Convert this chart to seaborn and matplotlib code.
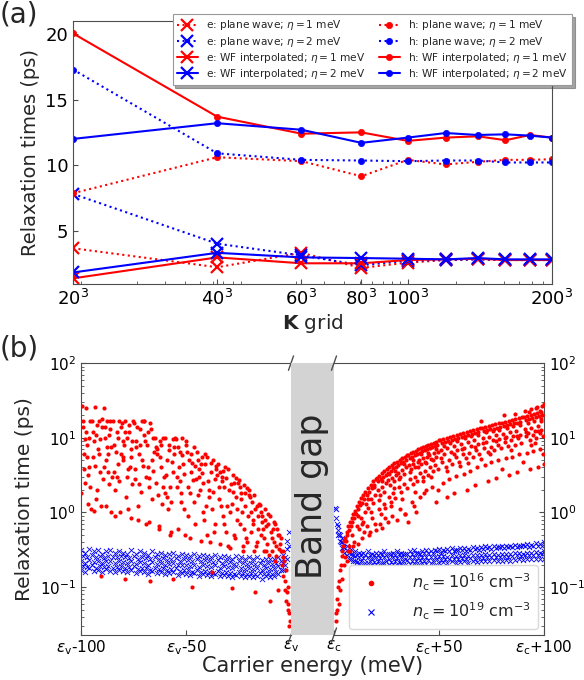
import numpy as np
import pandas as pd
import matplotlib
matplotlib.use('Agg')
import matplotlib.pyplot as plt
import seaborn as sns

sns.set_style('ticks')
plt.rcParams.update({
    'font.family': ['DejaVu Sans'],
    'mathtext.fontset': 'dejavusans',
    'xtick.direction': 'in', 'ytick.direction': 'in',
    'axes.edgecolor': '0.3', 'xtick.color': '0.3', 'ytick.color': '0.3',
    'xtick.labelcolor': 'black', 'ytick.labelcolor': 'black',
})

# ---------------- panel (a) data ----------------
K = [20, 40, 60, 80, 100, 120, 140, 160, 180, 200]
k_ticks = [20, 40, 60, 80, 100, 200]
k_labels = [r'$20^3$', r'$40^3$', r'$60^3$', r'$80^3$', r'$100^3$', r'$200^3$']

e_pw_1 = [3.65, 2.2, 3.3, 2.15, 2.55, 2.75, 2.8, 2.75, 2.75, 2.75]
e_pw_2 = [7.8, 4.0, 3.1, 2.35, 2.7, 2.75, 2.8, 2.75, 2.75, 2.75]
e_wf_1 = [1.35, 2.95, 2.5, 2.5, 2.75, 2.8, 2.85, 2.75, 2.75, 2.75]
e_wf_2 = [1.8, 3.3, 2.95, 2.9, 2.85, 2.8, 2.9, 2.8, 2.8, 2.8]
h_pw_1 = [7.85, 10.6, 10.3, 9.15, 10.4, 10.05, 10.25, 10.4, 10.4, 10.45]
h_pw_2 = [17.3, 10.9, 10.4, 10.35, 10.3, 10.35, 10.35, 10.2, 10.2, 10.2]
h_wf_1 = [20.06, 13.7, 12.4, 12.5, 11.85, 12.1, 12.2, 11.9, 12.3, 12.1]
h_wf_2 = [12.0, 13.2, 12.7, 11.7, 12.1, 12.45, 12.3, 12.35, 12.25, 12.1]

series_a = [
    (e_pw_1, 'red', ':', 'x', r'e: plane wave; $\eta=1$ meV'),
    (e_pw_2, 'blue', ':', 'x', r'e: plane wave; $\eta=2$ meV'),
    (e_wf_1, 'red', '-', 'x', r'e: WF interpolated; $\eta=1$ meV'),
    (e_wf_2, 'blue', '-', 'x', r'e: WF interpolated; $\eta=2$ meV'),
    (h_pw_1, 'red', ':', 'o', r'h: plane wave; $\eta=1$ meV'),
    (h_pw_2, 'blue', ':', 'o', r'h: plane wave; $\eta=2$ meV'),
    (h_wf_1, 'red', '-', 'o', r'h: WF interpolated; $\eta=1$ meV'),
    (h_wf_2, 'blue', '-', 'o', r'h: WF interpolated; $\eta=2$ meV'),
]

# ---------------- panel (b) data ----------------
# holes (valence side), n_c = 1e16 (red)
red_l_E = [
    -99.5, -99, -98.5, -98, -97.5, -97, -96.5, -96, -95.5, -99.8, -98.2, -96.8, -97.8, -95.2,
    -94.8, -94.2, -93.5, -93, -92.6, -92, -91.5, -91, -90.5, -94, -92.8, -90.2, -93.8,
    -89.8, -89.2, -88.5, -88, -87.4, -87, -86.5, -86, -85.5, -89, -87.8, -85.2, -90.6,
    -84.8, -84.2, -83.6, -83, -82.5, -82, -81.4, -81, -80.5, -84, -82.8, -80.2,
    -79.8, -79.2, -78.6, -78, -77.5, -77, -76.4, -76, -75.5, -79, -77.8, -75.2, -76.8, -78.9,
    -74.8, -74.2, -73.6, -73, -72.5, -72, -71.4, -71, -70.5, -74, -72.8, -70.2,
    -69.8, -69.2, -68.6, -68, -67.5, -67, -66.4, -66, -65.5, -69, -67.8, -65.2, -67.2,
    -64.8, -64.2, -63.6, -63, -62.5, -62, -61.4, -61, -60.5, -64, -62.8, -60.2,
    -59.8, -59.2, -58.6, -58, -57.5, -57, -56.4, -56, -55.5, -59, -57.8, -55.2, -56.2,
    -54.8, -54.2, -53.6, -53, -52.5, -52, -51.4, -51, -50.5, -54, -52.8, -50.2,
    -49.8, -49.2, -48.6, -48, -47.5, -47, -46.4, -46, -45.5, -49, -47.8, -45.2,
    -44.8, -44.2, -43.6, -43, -42.5, -42, -41.4, -41, -40.5, -44, -42.8, -40.2,
    -39.8, -39.2, -38.6, -38, -37.5, -37, -36.4, -36, -35.5, -39, -37.8, -35.2,
    -34.8, -34.2, -33.6, -33, -32.5, -32, -31.4, -31, -30.5, -34, -32.8, -30.2,
    -29.8, -29.2, -28.6, -28, -27.5, -27, -26.4, -26, -25.5, -29, -27.8, -25.2,
    -24.8, -24.2, -23.6, -23, -22.5, -22, -21.4, -21, -20.5, -24, -22.8, -20.2,
    -19.8, -19.2, -18.6, -18, -17.5, -17, -16.4, -16, -15.5, -19, -17.8, -15.2,
    -14.8, -14.2, -13.6, -13, -12.5, -12, -11.4, -11, -10.5, -14, -12.8, -10.2,
    -9.8, -9.2, -8.6, -8, -7.5, -7, -6.4, -6, -5.5, -9, -7.8, -5.2,
    -4.8, -4.4, -4, -3.6, -3.2, -2.8, -2.4, -2, -1.6, -1.2, -0.9, -0.6, -3.9, -2.9, -2.2, -1.4, -0.8,
]
red_l_t = [
    27, 17, 6, 2.5, 12, 8, 1.3, 4, 17, 1.8, 9.5, 3.2, 25, 1.1,
    17, 5.5, 26, 11, 2, 7, 17, 3.5, 1.2, 9, 1.5, 14, 1.05,
    18, 4, 10, 1.2, 17, 6, 2.4, 13, 1.0, 25, 7.5, 3, 0.14,
    17, 8, 2, 12, 4.5, 17, 1.0, 6, 16, 0.9, 3, 9,
    5, 17, 1.6, 10, 3.8, 15, 0.85, 7, 2.4, 12, 1.1, 17, 4, 0.13,
    16, 2.8, 9, 0.8, 6, 13, 1.9, 17, 4.2, 7.5, 1.2, 11,
    17, 3, 8, 12, 0.75, 16, 5, 1.5, 10, 0.7, 2.2, 6.5, 0.12,
    10, 2.5, 6, 0.65, 9, 4, 1.3, 10, 3, 7, 0.6, 1.8,
    10, 5, 1.1, 8, 2.2, 0.55, 9.5, 3.5, 6, 1.6, 0.5, 10, 0.13,
    9.5, 3, 0.6, 6.5, 1.8, 10, 4.5, 1.1, 0.5, 7.5, 2.6, 9,
    8, 2.2, 5, 0.45, 3.5, 0.1, 7.5, 1.4, 4.2, 0.9, 6, 2.8,
    6.5, 1.7, 3.8, 0.42, 5.5, 2.5, 0.8, 6, 1.2, 3, 4.5, 0.5,
    5.5, 2, 0.4, 3.5, 1.1, 5, 0.7, 2.8, 4.2, 1.6, 0.16, 3.2,
    4.5, 1.5, 0.38, 3, 0.9, 2.2, 4, 0.55, 1.2, 3.5, 2.6, 0.35,
    3.8, 1, 2.4, 0.098, 3.2, 0.5, 1.6, 2.9, 0.8, 0.33, 1.9, 2.5,
    2.7, 0.7, 1.8, 0.36, 2.3, 1.2, 0.45, 2.1, 0.9, 1.5, 0.3, 1.7,
    2, 0.55, 1.4, 0.8, 1.7, 0.085, 0.4, 1.2, 0.6, 1, 0.3, 1.3,
    1.25, 0.5, 0.9, 0.3, 1.1, 0.65, 0.38, 0.95, 0.27, 0.75, 0.45, 0.065,
    0.9, 0.3, 0.6, 0.4, 0.7, 0.26, 0.5, 0.09, 0.32, 0.45, 0.22, 0.38,
    0.45, 0.2, 0.3, 0.14, 0.22, 0.12, 0.17, 0.085, 0.1, 0.06, 0.045, 0.035, 0.25, 0.09, 0.065, 0.05, 0.03,
]
red_l_E2 = [
    -99.2, -98.8, -97.2, -96.2, -95.8, -94.5, -93.2, -92.2, -91.2, -90.8, -89.5, -88.8, -88.2, -87.2,
    -86.8, -86.2, -85.8, -84.5, -83.2, -82.2, -81.8, -80.8, -80, -79.5, -78.2, -77.2, -76.2, -75.8,
    -74.5, -73.2, -72.2, -71.8, -70.8, -70, -69.5, -68.2, -67.4, -66.8, -65.8, -64.5, -63.2, -62.2,
    -61.8, -60.8, -59.5, -58.2, -57.2, -56.8, -55.8, -54.5, -53.2, -52.2, -51.8, -50.8, -49.5, -48.2,
    -47.2, -46.8, -45.8, -44.5, -43.2, -42.2, -41.8, -40.8, -39.5, -38.2, -37.2, -36.8, -35.8, -34.5,
    -33.2, -32.2, -31.8, -30.8, -29.5, -28.2, -27.2, -26.8, -25.8, -24.5, -23.2, -22.2, -21.8, -20.8,
    -19.5, -18.2, -17.2, -16.8, -15.8, -14.5, -13.2, -12.2, -11.8, -10.8, -9.5, -8.2, -7.2, -6.8,
    -5.8, -5,
]
red_l_t2 = [
    14, 3.8, 5.5, 10, 2.2, 12, 4.2, 15, 6, 9.5, 2.8, 14, 5, 3.5,
    11, 17, 7.5, 3.5, 6.5, 10, 2.6, 14, 5.5, 8, 3, 12, 5.5, 9,
    3.8, 14, 2.4, 8, 5, 17, 9, 4, 2.9, 13, 3.6, 7.5, 1.7, 5.5,
    8, 2.2, 3.2, 6.8, 1.4, 4.8, 7.5, 2.2, 4, 1.4, 5.8, 3.3, 6.5, 1.8,
    4.6, 2.7, 0.7, 5, 2, 3.4, 1, 4.5, 2.6, 4.6, 1.9, 0.55, 3.8, 2.2,
    1.2, 3.6, 0.7, 2.9, 2, 1.3, 2.5, 0.45, 1.1, 2.2, 1, 0.6, 1.8, 0.4,
    1.6, 0.7, 1.1, 0.35, 0.9, 1, 0.6, 0.8, 0.3, 0.7, 0.55, 0.75, 0.35, 0.6,
    0.5, 0.3,
]

# holes, n_c = 1e19 (blue): two energy rows with several tau layers
blue_l_E_a = [-100, -98, -96, -94, -92, -90, -88, -86, -84, -82, -80, -78, -76, -74, -72,
              -70, -68, -66, -64, -62, -60, -58, -56, -54, -52, -50, -48, -46, -44, -42,
              -40, -38, -36, -34, -32, -30, -28, -26, -24, -22, -20, -18, -16, -14, -12,
              -10, -8, -6, -4, -2]
blue_l_E_b = [-99, -97, -95, -93, -91, -89, -87, -85, -83, -81, -79, -77, -75, -73, -71,
              -69, -67, -65, -63, -61, -59, -57, -55, -53, -51, -49, -47, -45, -43, -41,
              -39, -37, -35, -33, -31, -29, -27, -25, -23, -21, -19, -17, -15, -13, -11,
              -9, -7, -5, -3, -1]
blue_l_low = [0.17, 0.16, 0.18, 0.165, 0.17, 0.16, 0.175, 0.165, 0.16, 0.17,
              0.165, 0.16, 0.17, 0.155, 0.165, 0.16, 0.15, 0.165, 0.155, 0.16,
              0.15, 0.155, 0.16, 0.145, 0.155, 0.15, 0.145, 0.155, 0.14, 0.15,
              0.145, 0.14, 0.15, 0.14, 0.145, 0.14, 0.135, 0.145, 0.14, 0.135,
              0.14, 0.135, 0.14, 0.13, 0.14, 0.135, 0.14, 0.15, 0.17, 0.24]
blue_l_mid = [0.22, 0.21, 0.23, 0.215, 0.22, 0.21, 0.225, 0.22, 0.21, 0.22,
              0.215, 0.21, 0.22, 0.205, 0.215, 0.21, 0.2, 0.215, 0.205, 0.21,
              0.2, 0.205, 0.21, 0.195, 0.2, 0.2, 0.19, 0.2, 0.185, 0.195,
              0.19, 0.185, 0.195, 0.18, 0.19, 0.185, 0.18, 0.19, 0.18, 0.175,
              0.18, 0.175, 0.18, 0.17, 0.18, 0.175, 0.18, 0.19, 0.21, 0.32]
blue_l_high = [0.31, 0.29, 0.32, 0.3, 0.31, 0.28, 0.3, 0.31, 0.29, 0.3,
               0.29, 0.28, 0.31, 0.28, 0.3, 0.29, 0.27, 0.3, 0.28, 0.29,
               0.27, 0.28, 0.29, 0.26, 0.28, 0.27, 0.26, 0.28, 0.26, 0.27,
               0.26, 0.25, 0.27, 0.25, 0.26, 0.25, 0.24, 0.26, 0.25, 0.24,
               0.25, 0.24, 0.25, 0.23, 0.24, 0.24, 0.24, 0.25, 0.27, 0.42]
blue_l_lm = [0.19, 0.185, 0.195, 0.18, 0.19, 0.185, 0.19, 0.18, 0.185, 0.19,
             0.18, 0.185, 0.19, 0.175, 0.18, 0.18, 0.17, 0.18, 0.175, 0.18,
             0.17, 0.175, 0.18, 0.165, 0.17, 0.17, 0.16, 0.17, 0.16, 0.165,
             0.16, 0.155, 0.165, 0.155, 0.16, 0.155, 0.15, 0.16, 0.155, 0.15,
             0.155, 0.15, 0.155, 0.15, 0.155, 0.15, 0.16, 0.17, 0.2, 0.36]
blue_l_mh = [0.26, 0.25, 0.27, 0.25, 0.26, 0.245, 0.26, 0.25, 0.255, 0.26,
             0.25, 0.245, 0.26, 0.24, 0.25, 0.245, 0.235, 0.25, 0.24, 0.245,
             0.23, 0.24, 0.245, 0.225, 0.235, 0.23, 0.22, 0.235, 0.22, 0.23,
             0.22, 0.215, 0.23, 0.21, 0.22, 0.215, 0.205, 0.22, 0.21, 0.205,
             0.21, 0.205, 0.21, 0.2, 0.21, 0.205, 0.21, 0.22, 0.25, 0.55]

# electrons (conduction side), n_c = 1e16 (red)
red_r_E = [
    0.8, 1.2, 1.6, 2, 2.4, 2.8, 3.2, 3.6, 4, 4.4, 4.8, 1.0, 2.2, 3.0, 3.8, 4.6,
    5.2, 5.6, 6, 6.4, 6.8, 7.2, 7.6, 8, 8.4, 8.8, 9.2, 9.6, 5.4, 6.2, 7, 7.8, 8.6, 9.4,
    10, 10.5, 11, 11.5, 12, 12.5, 13, 13.5, 14, 14.5, 10.8, 11.8, 12.8, 13.8, 14.8, 11.2, 13.2, 14.2,
    15, 15.6, 16.2, 16.8, 17.4, 18, 18.6, 19.2, 19.8, 15.4, 16.4, 17.4, 18.4, 19.4, 15.8, 17, 18.2, 19.6, 16.6,
    20.4, 21, 21.6, 22.2, 22.8, 23.4, 24, 24.6, 20.8, 21.8, 22.8, 23.8, 24.8, 21.2, 22.4, 23.6, 24.4, 20.2, 22, 23,
    25.2, 25.8, 26.4, 27, 27.6, 28.2, 28.8, 29.4, 25.5, 26.5, 27.5, 28.5, 29.5, 26, 27, 28, 29, 25.8, 27.8, 29.8,
    30, 30.6, 31.2, 31.8, 32.4, 33, 33.6, 34.2, 34.8, 30.4, 31.4, 32.4, 33.4, 34.4, 30.8, 32, 33.2, 34.6, 31.6, 33.8,
    35.4, 36, 36.6, 37.2, 37.8, 38.4, 39, 39.6, 35.8, 36.8, 37.8, 38.8, 39.8, 36.2, 37.4, 38.6, 39.4, 35.2, 37, 38.2, 39.2,
    40.2, 40.8, 41.4, 42, 42.6, 43.2, 43.8, 44.4, 40.5, 41.5, 42.5, 43.5, 44.5, 41, 42.2, 43.4, 44.6, 40.8, 42.8, 44,
    45, 45.6, 46.2, 46.8, 47.4, 48, 48.6, 49.2, 49.8, 45.4, 46.4, 47.4, 48.4, 49.4, 45.8, 47, 48.2, 49.6, 46.6, 48.8,
    50.4, 51.2, 52, 52.8, 53.6, 54.4, 55.2, 56, 56.8, 57.6, 58.4, 59.2, 50.8, 52.4, 54, 55.6, 57.2, 58.8,
    51.6, 53.2, 54.8, 56.4, 58, 59.6, 52, 55, 58, 53.6, 57,
    60, 60.8, 61.6, 62.4, 63.2, 64, 64.8, 65.6, 66.4, 67.2, 68, 68.8, 69.6, 60.4, 62, 63.6, 65.2, 66.8, 68.4,
    61.2, 62.8, 64.4, 66, 67.6, 69.2, 62, 65, 68, 63.5, 67,
    70.4, 71.2, 72, 72.8, 73.6, 74.4, 75.2, 76, 76.8, 77.6, 78.4, 79.2, 70.8, 72.4, 74, 75.6, 77.2, 78.8,
    71.6, 73.2, 74.8, 76.4, 78, 79.6, 72, 75, 78, 73.5, 77, 70.2,
    80, 80.8, 81.6, 82.4, 83.2, 84, 84.8, 85.6, 86.4, 87.2, 88, 88.8, 89.6, 80.4, 82, 83.6, 85.2, 86.8, 88.4,
    81.2, 82.8, 84.4, 86, 87.6, 89.2, 82, 85, 88, 83.5, 87, 81, 86,
    90.4, 91.2, 92, 92.8, 93.6, 94.4, 95.2, 96, 96.8, 97.6, 98.4, 99.2, 90.8, 92.4, 94, 95.6, 97.2, 98.8,
    91.6, 93.2, 94.8, 96.4, 98, 99.6, 92, 95, 98, 93.5, 97, 99.8, 91, 94, 96.5, 99, 95.5, 98.6,
]
red_r_t = [
    0.035, 0.05, 0.07, 0.1, 0.12, 0.17, 0.2, 0.26, 0.3, 0.35, 0.42, 0.045, 0.06, 0.09, 0.13, 0.2,
    0.45, 0.42, 0.55, 0.5, 0.65, 0.58, 0.75, 0.66, 0.85, 0.75, 0.95, 0.85, 0.25, 0.22, 0.36, 0.3, 0.5, 0.4,
    1.05, 0.95, 1.2, 1.1, 1.4, 1.25, 1.55, 1.35, 1.7, 1.5, 0.65, 0.6, 0.85, 0.75, 1.0, 0.38, 0.45, 0.55,
    1.9, 1.7, 2.1, 1.9, 2.3, 2.1, 2.6, 2.3, 2.8, 1.3, 1.15, 1.5, 1.35, 1.7, 0.65, 0.55, 0.85, 0.7, 0.5,
    2.9, 2.6, 3.1, 2.8, 3.4, 3.0, 3.6, 3.2, 2.0, 1.7, 2.2, 1.9, 2.5, 1.1, 0.95, 1.3, 1.15, 0.58, 0.7, 0.62,
    3.8, 3.4, 4.0, 3.6, 4.3, 3.9, 4.6, 4.1, 2.7, 2.3, 2.9, 2.6, 3.2, 1.6, 1.4, 1.8, 1.55, 0.75, 0.9, 0.8,
    4.8, 4.3, 5.0, 4.6, 5.3, 4.8, 5.6, 5.0, 5.8, 3.4, 3.0, 3.7, 3.3, 4.0, 2.2, 1.9, 2.4, 2.1, 1.1, 0.95,
    5.9, 5.3, 6.2, 5.6, 6.4, 5.8, 6.7, 6.0, 4.3, 3.8, 4.5, 4.0, 4.8, 2.8, 2.4, 3.0, 2.6, 0.75, 1.4, 1.2, 1.0,
    7.0, 6.3, 7.2, 6.6, 7.5, 6.8, 7.8, 7.0, 5.1, 4.5, 5.3, 4.8, 5.6, 3.4, 3.0, 3.6, 3.2, 1.6, 1.8, 2.0,
    8.0, 7.2, 8.3, 7.5, 8.6, 7.8, 8.9, 8.0, 9.2, 5.9, 5.2, 6.2, 5.5, 6.5, 4.0, 3.6, 4.3, 3.8, 2.2, 1.4,
    9.3, 8.4, 9.6, 8.7, 10, 9.0, 10.3, 9.3, 10.7, 9.6, 11, 9.9, 6.8, 6.0, 7.2, 6.4, 7.7, 6.8,
    4.7, 4.1, 5.0, 4.4, 5.5, 4.8, 2.5, 2.8, 3.1, 1.6, 1.8,
    11.4, 10.3, 11.7, 10.6, 12, 10.9, 12.4, 11.2, 12.7, 11.5, 13, 11.8, 13.4, 8.3, 7.4, 8.7, 7.8, 9.2, 8.2,
    6.0, 5.3, 6.3, 5.6, 6.8, 6.0, 3.3, 3.6, 4.0, 2.0, 2.3,
    13.6, 12.2, 14, 12.6, 14.4, 13, 14.8, 13.3, 15.2, 13.7, 15.6, 14, 9.9, 8.8, 10.3, 9.2, 10.8, 9.6,
    7.3, 6.5, 7.6, 6.8, 8.1, 7.2, 4.3, 4.7, 5.0, 2.6, 2.9, 17,
    16, 14.4, 16.4, 14.8, 16.9, 15.2, 17.3, 15.6, 17.8, 16, 18.2, 16.4, 18.7, 11.4, 10.2, 11.9, 10.6, 12.5, 11,
    8.7, 7.7, 9.2, 8.1, 9.8, 8.6, 5.3, 5.6, 6.0, 3.2, 3.5, 20, 21,
    19, 17.2, 19.6, 17.8, 20.3, 18.4, 21, 19, 21.7, 19.6, 22.4, 20.2, 13.1, 11.7, 13.7, 12.2, 14.3, 12.8,
    10.5, 9.3, 11, 9.8, 11.7, 10.4, 6.3, 6.7, 7.1, 3.8, 4.1, 4.5, 23, 24, 26, 27, 8.5, 17,
]
red_r_E2 = [
    6.5, 9, 11.5, 13.5, 16, 17.8, 19, 21.5, 23, 24.2, 26, 27.2, 28.6, 29.2, 31, 32.6, 33.5, 34,
    36.4, 37.6, 38.8, 40, 41.2, 42.4, 43.6, 44.8, 46, 47.2, 48.4, 49.6, 51, 52.6, 54, 55.4, 57,
    58.6, 59.8, 61, 62.6, 64, 65.4, 67, 68.6, 69.8, 71, 72.6, 74.2, 75.6, 77, 78.6, 79.8, 81.4,
    82.6, 84.2, 85.4, 87, 88.6, 89.8, 91.4, 92.6, 94, 95.4, 97, 98.6, 99.6, 96, 98, 93, 100, 99,
]
red_r_t2 = [
    0.3, 0.35, 0.9, 0.7, 1.5, 1.0, 2.2, 1.45, 2.6, 0.85, 3.3, 1.2, 2.1, 3.6, 2.8, 1.5, 4.4, 0.95,
    3.5, 5.0, 1.9, 4.0, 6.0, 2.6, 4.6, 6.2, 3.0, 5.0, 7.0, 2.0, 5.4, 7.8, 3.6, 8.6, 6.0,
    9.0, 4.2, 7.0, 9.8, 4.6, 10.6, 7.6, 11, 5.2, 8.4, 11.8, 6.0, 12.4, 9.0, 12.8, 3.8, 10,
    13.5, 6.8, 14.2, 10.6, 15, 4.8, 12, 16, 8, 16.8, 12.5, 18, 6, 25, 23, 22, 28, 20,
]

# electrons, n_c = 1e19 (blue)
blue_r_E_a = [2, 4, 6, 8, 10, 12, 14, 16, 18, 20, 22, 24, 26, 28, 30, 32, 34, 36, 38, 40,
              42, 44, 46, 48, 50, 52, 54, 56, 58, 60, 62, 64, 66, 68, 70, 72, 74, 76, 78, 80,
              82, 84, 86, 88, 90, 92, 94, 96, 98, 100]
blue_r_E_b = [1, 3, 5, 7, 9, 11, 13, 15, 17, 19, 21, 23, 25, 27, 29, 31, 33, 35, 37, 39,
              41, 43, 45, 47, 49, 51, 53, 55, 57, 59, 61, 63, 65, 67, 69, 71, 73, 75, 77, 79,
              81, 83, 85, 87, 89, 91, 93, 95, 97, 99]
blue_r_low = [0.5, 0.33, 0.27, 0.24, 0.22, 0.21, 0.2, 0.21, 0.2, 0.205,
              0.2, 0.21, 0.2, 0.205, 0.2, 0.21, 0.2, 0.205, 0.21, 0.2,
              0.21, 0.205, 0.21, 0.2, 0.21, 0.215, 0.21, 0.22, 0.21, 0.215,
              0.22, 0.21, 0.22, 0.215, 0.22, 0.225, 0.22, 0.23, 0.22, 0.225,
              0.23, 0.225, 0.23, 0.235, 0.23, 0.24, 0.235, 0.24, 0.235, 0.24]
blue_r_mid = [0.58, 0.4, 0.31, 0.28, 0.26, 0.25, 0.245, 0.25, 0.24, 0.25,
              0.245, 0.25, 0.24, 0.25, 0.245, 0.25, 0.24, 0.25, 0.255, 0.245,
              0.255, 0.25, 0.255, 0.25, 0.26, 0.26, 0.255, 0.265, 0.26, 0.265,
              0.27, 0.26, 0.27, 0.265, 0.27, 0.275, 0.27, 0.28, 0.27, 0.275,
              0.28, 0.275, 0.285, 0.29, 0.28, 0.29, 0.285, 0.295, 0.29, 0.3]
blue_r_high = [0.66, 0.46, 0.36, 0.32, 0.3, 0.29, 0.29, 0.3, 0.28, 0.29,
               0.285, 0.3, 0.28, 0.29, 0.3, 0.29, 0.28, 0.3, 0.31, 0.29,
               0.3, 0.31, 0.3, 0.31, 0.32, 0.31, 0.32, 0.33, 0.31, 0.33,
               0.33, 0.32, 0.34, 0.33, 0.34, 0.35, 0.34, 0.35, 0.34, 0.36,
               0.36, 0.35, 0.37, 0.36, 0.37, 0.38, 0.37, 0.39, 0.38, 0.4]
blue_r_lm = [0.85, 0.42, 0.29, 0.24, 0.225, 0.215, 0.22, 0.21, 0.22, 0.215,
             0.22, 0.21, 0.22, 0.215, 0.225, 0.215, 0.22, 0.23, 0.22, 0.225,
             0.23, 0.225, 0.23, 0.225, 0.235, 0.23, 0.24, 0.235, 0.24, 0.235,
             0.245, 0.24, 0.245, 0.24, 0.25, 0.245, 0.25, 0.255, 0.25, 0.255,
             0.26, 0.255, 0.26, 0.265, 0.26, 0.27, 0.265, 0.27, 0.27, 0.275]
blue_r_mh = [1.1, 0.5, 0.34, 0.29, 0.27, 0.27, 0.275, 0.265, 0.27, 0.27,
             0.265, 0.275, 0.27, 0.28, 0.27, 0.275, 0.28, 0.275, 0.28, 0.285,
             0.28, 0.29, 0.285, 0.29, 0.3, 0.29, 0.3, 0.305, 0.3, 0.31,
             0.31, 0.305, 0.315, 0.32, 0.31, 0.32, 0.33, 0.32, 0.33, 0.34,
             0.33, 0.34, 0.345, 0.34, 0.35, 0.35, 0.345, 0.36, 0.35, 0.36]
blue_r_edge_E = [0.5, 1.5, 2.5, 3.5, 4.5]
blue_r_edge_t = [1.15, 0.7, 0.52, 0.4, 0.34]

left_ticks = [-100, -50, 0]
left_labels = [r'$\varepsilon_\mathrm{v}$-100', r'$\varepsilon_\mathrm{v}$-50', r'$\varepsilon_\mathrm{v}$']
right_ticks = [0, 50, 100]
right_labels = [r'$\varepsilon_\mathrm{c}$', r'$\varepsilon_\mathrm{c}$+50', r'$\varepsilon_\mathrm{c}$+100']

# ---------------- figure ----------------
fig = plt.figure(figsize=(5.84, 6.8), dpi=100)

# panel (a)
ax = fig.add_axes([0.125, 0.582, 0.820, 0.387])
K3 = [k ** 3 for k in K]
for vals, col, ls, mk, lab in series_a:
    if mk == 'x':
        sns.lineplot(x=K3, y=vals, ax=ax, color=col, linestyle=ls, linewidth=1.5,
                     marker='x', markersize=9, markeredgewidth=1.6, markeredgecolor=col,
                     label=lab, sort=False)
    else:
        sns.lineplot(x=K3, y=vals, ax=ax, color=col, linestyle=ls, linewidth=1.5,
                     marker='o', markersize=4.5, markeredgewidth=0.5, markeredgecolor=col,
                     markerfacecolor=col, label=lab, sort=False)
ax.set_xscale('log')
ax.set_xlim(20 ** 3, 200 ** 3)
ax.set_ylim(0.9, 21)
ax.set_xticks([k ** 3 for k in k_ticks])
ax.set_xticklabels(k_labels, fontsize=13)
ax.set_yticks([5, 10, 15, 20])
ax.tick_params(axis='y', labelsize=13)
ax.set_xlabel(r'$\mathbf{K}$ grid', fontsize=14.5, labelpad=2)
ax.set_ylabel('Relaxation times (ps)', fontsize=14)
leg = ax.legend(ncol=2, fontsize=7.6, loc='upper right', bbox_to_anchor=(1.042, 1.027),
                borderaxespad=0, shadow=True, fancybox=False, framealpha=1,
                edgecolor='0.6', columnspacing=1.2, handlelength=2.0, labelspacing=0.22)
leg.get_frame().set_linewidth(0.8)

# panel (b)
axL = fig.add_axes([0.1387, 0.066, 0.3596, 0.400])
axM = fig.add_axes([0.4983, 0.066, 0.0736, 0.400])
axR = fig.add_axes([0.5719, 0.066, 0.3596, 0.400])

for a, E_a, E_b, lo, mi, hi, lm, mh in [
        (axL, blue_l_E_a, blue_l_E_b, blue_l_low, blue_l_mid, blue_l_high, blue_l_lm, blue_l_mh),
        (axR, blue_r_E_a, blue_r_E_b, blue_r_low, blue_r_mid, blue_r_high, blue_r_lm, blue_r_mh)]:
    bx = list(E_a) * 3 + list(E_b) * 2
    by = list(lo) + list(mi) + list(hi) + list(lm) + list(mh)
    sns.scatterplot(x=bx, y=by, ax=a, color='blue', marker='x', s=14, linewidth=0.6, zorder=2)

sns.scatterplot(x=blue_r_edge_E, y=blue_r_edge_t, ax=axR, color='blue', marker='x', s=14,
                linewidth=0.6, zorder=2)
sns.scatterplot(x=red_l_E + red_l_E2, y=red_l_t + red_l_t2, ax=axL, color='red', marker='o',
                s=9, linewidth=0, zorder=3)
sns.scatterplot(x=red_r_E + red_r_E2, y=red_r_t + red_r_t2, ax=axR, color='red', marker='o',
                s=9, linewidth=0, zorder=3)

for a in (axL, axR):
    a.set_yscale('log')
    a.set_ylim(0.0227, 100)
axL.set_xlim(-100, 0)
axR.set_xlim(0, 100)
axL.set_xticks(left_ticks)
axL.set_xticklabels(left_labels, fontsize=11)
axR.set_xticks(right_ticks)
axR.set_xticklabels(right_labels, fontsize=11)
for a in (axL, axR):
    a.tick_params(axis='x', pad=2)
axL.tick_params(axis='y', labelsize=11)
axR.tick_params(axis='y', labelsize=11, left=False, labelleft=False, right=True, labelright=True,
                which='both')
axR.yaxis.set_ticks_position('right')
axL.spines['right'].set_visible(False)
axR.spines['left'].set_visible(False)
axL.set_ylabel('Relaxation time (ps)', fontsize=14.5)

axM.set_facecolor('#d3d3d3')
axM.set_xticks([])
axM.set_yticks([])
for s in axM.spines.values():
    s.set_visible(False)
axM.text(0.5, 0.51, 'Band gap', rotation=90, ha='center', va='center', fontsize=25,
         transform=axM.transAxes)

# break marks
d = 0.012
kw = dict(color='0.3', clip_on=False, linewidth=1)
for a, xe in ((axL, 1.0), (axR, 0.0)):
    for ye in (0.0, 1.0):
        a.plot([xe - d, xe + d], [ye - 2.2 * d, ye + 2.2 * d], transform=a.transAxes, **kw)

handles = [
    plt.Line2D([], [], marker='o', color='red', linestyle='none', markersize=3),
    plt.Line2D([], [], marker='x', color='blue', linestyle='none', markersize=5, markeredgewidth=0.8),
]
axR.legend(handles, [r'$n_\mathrm{c} = 10^{16}$ cm$^{-3}$', r'$n_\mathrm{c} = 10^{19}$ cm$^{-3}$'],
           loc='lower right', fontsize=11.5, frameon=True, framealpha=1, edgecolor='0.85',
           handletextpad=1.6, borderaxespad=0.4)

fig.text(312.5 / 584, 1 - 666 / 680, 'Carrier energy (meV)', ha='center', va='center', fontsize=15)
fig.text(0.0, 1.0, '(a)', ha='left', va='top', fontsize=20)
fig.text(0.0, 1 - 334 / 680, '(b)', ha='left', va='top', fontsize=20)

fig.savefig('out.png', dpi=100)
